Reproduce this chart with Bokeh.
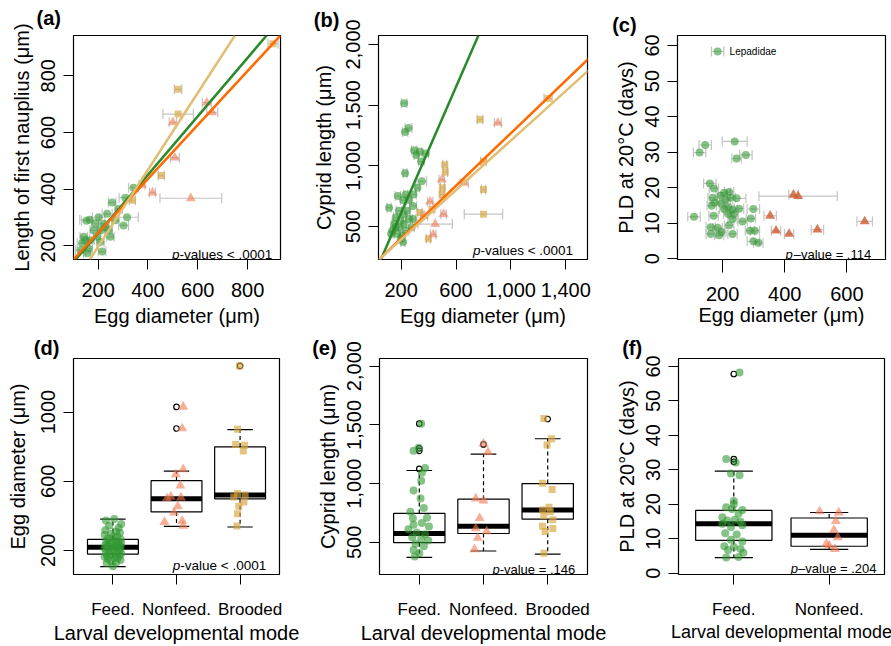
import numpy as np
from bokeh.plotting import figure
from bokeh.layouts import column, row
from bokeh.models import (ColumnDataSource, Slope, Whisker, TeeHead, Label, LinearAxis, Title,
                          FixedTicker, Range1d, NumeralTickFormatter, CustomJSTickFormatter)
from bokeh.embed import file_html
from bokeh.resources import INLINE

FONT = "Liberation Sans"
GREEN = "#339933"
SALMON = "#f07850"
SALMON_DARK = "#cf5a30"
GOLD = "#d7a53e"
LINE_GREEN = "#2a8a2a"
LINE_ORANGE = "#ff6a00"
LINE_GOLD = "#e2bd72"
ERRC = "#c4c4c4"

# ---------------- panel (a): nauplius length vs egg diameter ----------------
a_feed_x = [342, 309, 316, 302, 256, 282, 236, 202, 166, 153, 189, 222, 211, 242,
            249, 216, 136, 149, 162, 129, 169, 196, 182, 142, 156, 209, 229, 269]
a_feed_y = [405, 370, 301, 272, 353, 330, 313, 301, 292, 289, 278, 278, 255, 255,
            232, 180, 209, 220, 191, 185, 220, 232, 255, 232, 174, 214, 267, 290]
a_feed_xerr = [20, 25, 45, 20, 15, 15, 20, 25, 40, 20, 15, 20, 15, 15,
               15, 15, 20, 15, 15, 20, 15, 15, 15, 15, 15, 15, 15, 15]
a_non_x = [636, 658, 500, 508, 418, 572, 376]
a_non_y = [705, 671, 636, 511, 388, 368, 415]
a_non_xerr = [18, 22, 15, 18, 12, 124, 12]
a_brd_x = [521, 521, 453, 337, 902]
a_brd_y = [752, 665, 448, 361, 913]
a_brd_xerr = [15, 61, 12, 12, 20]
a_fit_intercept = [38.6, 55.9, -74.2]      # feeding, nonfeeding, brooded
a_fit_slope = [1.031, 0.951, 1.357]

# ---------------- panel (b): cyprid length vs egg diameter ----------------
b_feed_x = [222, 254, 229, 295, 336, 380, 310, 346, 229, 351, 319, 290, 234, 176,
            215, 287, 112, 184, 220, 160, 196, 257, 287, 149, 184, 220, 138, 172,
            208, 127, 214, 234, 196, 160, 245, 276, 257]
b_feed_y = [1516, 1311, 1278, 1129, 1116, 1102, 1090, 1035, 940, 873, 819, 764, 764, 751,
            718, 670, 656, 630, 600, 575, 548, 562, 562, 521, 494, 521, 467, 440,
            426, 440, 373, 467, 400, 494, 630, 494, 718]
b_feed_xerr = [20, 25, 20, 20, 15, 20, 15, 20, 15, 35, 15, 20, 15, 20,
               20, 25, 15, 20, 15, 15, 20, 25, 20, 15, 20, 15, 15, 20,
               15, 15, 15, 20, 15, 20, 15, 20, 20]
b_non_x = [905, 659, 496, 411, 367, 509, 448, 433]
b_non_y = [1354, 859, 886, 705, 589, 602, 521, 435]
b_non_xerr = [25, 30, 20, 20, 25, 20, 125, 20]
b_brd_x = [1271, 775, 518, 522, 800, 800, 800, 501, 498, 424, 336, 399]
b_brd_y = [1554, 1381, 1008, 950, 1035, 805, 602, 819, 764, 640, 616, 399]
b_brd_xerr = [30, 20, 15, 15, 20, 15, 140, 15, 15, 15, 15, 15]
b_fit_intercept = [94, 187, 189]
b_fit_slope = [2.594, 1.082, 1.020]

# ---------------- panel (c): PLD vs egg diameter ----------------
c_feed_x = [184, 144, 126, 239, 275, 245, 159, 172, 108, 171, 165, 168, 194, 205,
            221, 210, 196, 226, 245, 218, 205, 232, 253, 236, 218, 232, 221, 264,
            299, 291, 288, 304, 299, 315, 232, 196, 184, 162, 162, 189, 175]
c_feed_y = [58.3, 32.0, 29.9, 33.0, 29.2, 28.2, 21.2, 19.8, 11.8, 12.1, 14.9, 17.2, 17.7, 18.6,
            18.8, 16.6, 15.5, 17.2, 17.0, 14.6, 14.0, 13.8, 14.1, 12.6, 12.6, 11.2, 9.4, 10.5,
            14.0, 11.3, 7.9, 7.9, 4.9, 4.5, 7.0, 7.5, 8.7, 8.9, 7.0, 6.6, 15.8]
c_feed_xerr = [20, 20, 20, 40, 20, 15, 20, 15, 20, 15, 15, 15, 15, 20,
               15, 15, 15, 15, 30, 15, 15, 15, 15, 15, 15, 15, 15, 15,
               20, 15, 15, 15, 20, 15, 15, 15, 15, 15, 15, 15, 15]
c_non_x = [428, 443, 353, 372, 414, 505, 657]
c_non_y = [18.0, 17.6, 12.1, 7.9, 7.0, 8.2, 10.5]
c_non_xerr = [15, 126, 20, 15, 15, 20, 25]
c_note = "Lepadidae"

# ---------------- panel (d): egg diameter by mode ----------------
modes3 = ["Feed.", "Nonfeed.", "Brooded"]
d_q1 = [178, 422, 498]
d_med = [217, 499, 520]
d_q3 = [263, 603, 798]
d_wlo = [106, 339, 335]
d_whi = [381, 658, 898]
d_out_cat = [2, 2, 3]
d_out_y = [1030, 905, 1267]
d_feed_y = [381, 372, 352, 342, 330, 316, 309, 302, 295, 288, 280, 275, 269, 264, 256,
            253, 249, 245, 242, 239, 236, 232, 229, 226, 222, 221, 218, 216, 211, 209,
            205, 202, 196, 194, 189, 184, 182, 175, 172, 169, 166, 162, 159, 153, 149,
            144, 136, 129, 126, 108]
d_feed_dx = [0.02, -0.11, 0.13, -0.06, 0.09, -0.12, 0.05, 0.11, -0.03, -0.13, 0.07, 0.0,
             -0.08, 0.12, 0.04, -0.1, 0.08, -0.05, 0.13, -0.01, 0.06, -0.12, 0.1, -0.07,
             0.03, 0.12, -0.09, 0.05, -0.13, 0.08, -0.02, 0.11, -0.06, 0.01, 0.09, -0.11,
             0.13, -0.04, 0.06, -0.09, 0.1, -0.13, 0.02, 0.07, -0.08, 0.12, -0.03, 0.05,
             -0.1, 0.0]
d_non_y = [1030, 905, 669, 640, 575, 510, 505, 455, 418, 363, 370, 341, 500]
d_non_dx = [0.105, 0.09, 0.105, -0.01, 0.06, -0.09, 0.07, 0.02, -0.04, -0.19, 0.09, 0.105, -0.15]
d_brd_y = [1267, 900, 812, 808, 775, 529, 520, 508, 479, 455, 411, 340]
d_brd_dx = [-0.01, -0.04, -0.07, 0.07, 0.05, -0.04, 0.08, -0.1, 0.06, -0.02, -0.04, -0.05]

# ---------------- panel (e): cyprid length by mode ----------------
e_q1 = [498, 576, 698]
e_med = [576, 638, 776]
e_q3 = [747, 868, 1001]
e_wlo = [373, 427, 400]
e_whi = [1112, 1252, 1382]
e_out_cat = [1, 1, 1, 1, 2, 3]
e_out_y = [1510, 1301, 1279, 1125, 1334, 1550]
e_feed_y = [1510, 1280, 1305, 1133, 1093, 1025, 941, 873, 792, 706, 666, 650, 636,
            611, 584, 570, 544, 530, 517, 489, 467, 435, 408, 381, 710, 760]
e_feed_dx = [0.03, -0.09, -0.01, 0.09, 0.04, 0.03, -0.09, 0.02, 0.07, -0.1, 0.04, -0.09, 0.15,
             -0.17, -0.04, 0.09, -0.11, 0.03, 0.14, -0.06, 0.07, -0.09, 0.0, -0.07, 0.12, -0.14]
e_non_y = [1340, 1269, 873, 855, 706, 619, 595, 538, 441]
e_non_dx = [0.0, 0.07, -0.12, 0.0, -0.06, -0.12, 0.05, -0.09, -0.14]
e_brd_y = [1555, 1382, 1328, 1003, 950, 800, 775, 760, 727, 692, 638, 619, 593, 408]
e_brd_dx = [-0.06, 0.06, -0.01, -0.08, 0.07, 0.02, -0.08, 0.04, -0.06, 0.08, -0.08, 0.08, -0.04, -0.06]

# ---------------- panel (f): PLD by mode ----------------
modes2 = ["Feed.", "Nonfeed."]
f_q1 = [9.5, 7.8]
f_med = [14.3, 11.0]
f_q3 = [18.2, 16.0]
f_wlo = [4.5, 6.9]
f_whi = [29.6, 17.6]
f_out_cat = [1, 1, 1]
f_out_y = [57.8, 33.1, 32.3]
f_feed_y = [58.2, 33.1, 32.1, 28.9, 28.4, 20.9, 19.1, 18.6, 18.3, 17.2, 15.3, 15.5, 14.9, 14.3,
            13.4, 13.9, 11.6, 11.2, 9.7, 9.2, 7.8, 7.6, 7.0, 6.7, 5.9, 4.5, 4.7, 16.2, 20.0]
f_feed_dx = [0.06, -0.08, 0.02, -0.03, 0.06, 0.0, -0.08, -0.02, 0.09, 0.05, -0.07, 0.01, 0.07,
             -0.12, -0.03, 0.09, -0.09, 0.03, -0.03, 0.09, -0.1, 0.0, 0.07, -0.06, 0.1, -0.08,
             0.05, -0.12, 0.0]
f_non_y = [17.9, 17.6, 15.1, 12.5, 10.4, 8.5, 8.0, 7.0]
f_non_dx = [-0.1, 0.1, 0.07, 0.05, 0.09, -0.03, 0.0, 0.06]

# approximate Arial/Liberation Sans advance widths (per 1000 em)
CW = {"-": 333, "–": 556, "v": 500, "a": 556, "l": 222, "u": 556, "e": 556, "s": 500,
      " ": 278, "<": 584, "=": 584, ".": 278, "p": 556}
for _d in "0123456789":
    CW[_d] = 556


def text_width(s, size):
    return sum(CW.get(ch, 556) for ch in s) / 1000.0 * size


def base_fig(w, h, xr, yr, bl, br, bt, bb):
    p = figure(width=w, height=h, x_range=Range1d(*xr), y_range=Range1d(*yr),
               output_backend="svg", toolbar_location=None,
               min_border_left=bl, min_border_right=br,
               min_border_top=bt, min_border_bottom=bb)
    p.outline_line_color = "black"
    p.outline_line_width = 1.2
    p.outline_line_alpha = 1.0
    p.grid.visible = False
    p.background_fill_color = "white"
    p.border_fill_color = "white"
    for ax in (p.xaxis[0], p.yaxis[0]):
        ax.axis_line_color = None
        ax.major_tick_line_color = "black"
        ax.major_tick_line_width = 1
        ax.major_tick_in = 0
        ax.major_tick_out = 10
        ax.minor_tick_line_color = None
        ax.major_label_text_font = FONT
        ax.major_label_text_font_size = "20px"
        ax.major_label_text_color = "black"
        ax.axis_label_text_font = FONT
        ax.axis_label_text_font_size = "20px"
        ax.axis_label_text_font_style = "normal"
        ax.axis_label_text_color = "black"
    p.yaxis.major_label_orientation = "vertical"
    p.yaxis.major_label_standoff = 8
    p.yaxis.axis_label_standoff = 6
    p.xaxis.major_label_standoff = 13
    p.xaxis.axis_label_standoff = 5
    return p


def tag(p, text, offset, push_down=0):
    p.title.text = text
    p.title.align = "left"
    p.title.offset = offset
    p.title.standoff = 0
    p.title.text_font = FONT
    p.title.text_font_size = "20px"
    p.title.text_font_style = "bold"
    p.title.text_color = "black"
    if push_down:
        # blank spacer placed on the outer side of the panel tag, nudging it downwards
        spacer = Title(text=" ", text_font_size=f"{push_down}px", standoff=0)
        p.above = [spacer] + [r for r in p.above]


def pval(p, rest, fw, dr, db, size=13.5):
    p.add_layout(Label(x=fw - dr, y=db, x_units="screen", y_units="screen", text=rest,
                       text_align="right", text_baseline="alphabetic", text_font=FONT,
                       text_font_size=f"{size}px", text_color="black"))
    p.add_layout(Label(x=fw - dr - text_width(rest, size), y=db, x_units="screen",
                       y_units="screen", text="p", text_align="right",
                       text_baseline="alphabetic", text_font=FONT, text_font_style="italic",
                       text_font_size=f"{size}px", text_color="black"))


def scatter_err(p, xs, ys, xerr, marker, color, size, alpha):
    xs = np.array(xs, float)
    e = np.array(xerr, float)
    src = ColumnDataSource(dict(x=xs, y=np.array(ys, float), lo=xs - e, hi=xs + e))
    w = Whisker(source=src, base="y", lower="lo", upper="hi", dimension="width",
                line_color=ERRC, line_width=1.2, level="underlay",
                lower_head=TeeHead(size=10, line_color=ERRC, line_width=1.2),
                upper_head=TeeHead(size=10, line_color=ERRC, line_width=1.2))
    p.add_layout(w)
    p.scatter("x", "y", source=src, marker=marker, size=size, fill_color=color,
              fill_alpha=alpha, line_color=None)


def boxplot(p, q1, med, q3, wlo, whi, out_cat, out_y):
    c = np.arange(1, len(q1) + 1, dtype=float)
    src = ColumnDataSource(dict(x=c, q1=q1, med=med, q3=q3, wlo=wlo, whi=whi,
                                l=c - 0.4, r=c + 0.4, cl=c - 0.2, cr=c + 0.2))
    for a, b in (("q3", "whi"), ("q1", "wlo")):
        p.segment(x0="x", y0=a, x1="x", y1=b, source=src, line_color="black",
                  line_width=1.2, line_dash="4 3")
    for b in ("whi", "wlo"):
        p.segment(x0="cl", y0=b, x1="cr", y1=b, source=src, line_color="black", line_width=1.2)
    p.quad(left="l", right="r", bottom="q1", top="q3", source=src, fill_color="white",
           line_color="black", line_width=1.2)
    p.segment(x0="l", y0="med", x1="r", y1="med", source=src, line_color="black",
              line_width=5, line_cap="butt")
    p.scatter(x=out_cat, y=out_y, marker="circle", size=5.5, fill_color=None,
              line_color="black", line_width=1.2)


def jitter(p, cat, ys, dx, marker, color, size, alpha):
    xs = cat + np.array(dx, float)
    p.scatter(x=xs, y=ys, marker=marker, size=size, fill_color=color, fill_alpha=alpha,
              line_color=None)


def cat_axis(p, labels, last_shift_px, px_per_cat, title_size="20px"):
    ticks = list(range(1, len(labels) + 1))
    ax = p.xaxis[0]                      # tick marks only
    ax.ticker = FixedTicker(ticks=ticks)
    ax.formatter = CustomJSTickFormatter(code="return '';")
    ax.major_label_text_font_size = "1px"
    ax.major_label_standoff = 0
    ax.major_tick_out = 10
    pos = [float(t) for t in ticks]
    pos[-1] += last_shift_px / px_per_cat
    lab = LinearAxis(ticker=FixedTicker(ticks=pos),
                     formatter=CustomJSTickFormatter(args=dict(labels=labels),
                                                     code="return labels[Math.round(tick) - 1];"),
                     major_tick_out=0, major_tick_in=0, major_tick_line_color=None,
                     minor_tick_line_color=None, axis_line_color=None,
                     major_label_text_font=FONT, major_label_text_font_size="17px",
                     major_label_text_color="black", major_label_standoff=15,
                     axis_label="Larval developmental mode", axis_label_text_font=FONT,
                     axis_label_text_font_size=title_size, axis_label_text_font_style="normal",
                     axis_label_text_color="black", axis_label_standoff=0)
    p.add_layout(lab, "below")


# ================= (a) =================
pa = base_fig(300, 330, (101, 932), (152, 942), 73, 20, 35, 67)
pa.xaxis.ticker = FixedTicker(ticks=[200, 400, 600, 800])
pa.yaxis.ticker = FixedTicker(ticks=[200, 400, 600, 800])
pa.xaxis.axis_label = "Egg diameter (μm)"
pa.yaxis.axis_label = "Length of first nauplius (μm)"
scatter_err(pa, a_brd_x, a_brd_y, a_brd_xerr, "square", GOLD, 7, 0.65)
scatter_err(pa, a_non_x, a_non_y, a_non_xerr, "triangle", SALMON, 10, 0.6)
scatter_err(pa, a_feed_x, a_feed_y, a_feed_xerr, "circle", GREEN, 8, 0.6)
for b0, b1, col in zip(a_fit_intercept, a_fit_slope, [LINE_GREEN, LINE_ORANGE, LINE_GOLD]):
    pa.add_layout(Slope(gradient=b1, y_intercept=b0, line_color=col, line_width=2.5))
tag(pa, "(a)", -37, push_down=4)
pval(pa, "-values < .0001", 207, 8.3, 5.5)

# ================= (b) =================
pb = base_fig(308, 330, (35, 1558), (229, 2073), 78, 21, 35, 67)
pb.xaxis.ticker = FixedTicker(ticks=[200, 600, 1000, 1400])
pb.yaxis.ticker = FixedTicker(ticks=[500, 1000, 1500, 2000])
pb.xaxis.formatter = NumeralTickFormatter(format="0,0")
pb.yaxis.formatter = NumeralTickFormatter(format="0,0")
pb.yaxis.axis_label_standoff = 9
pb.xaxis.axis_label = "Egg diameter (μm)"
pb.yaxis.axis_label = "Cyprid length (μm)"
scatter_err(pb, b_brd_x, b_brd_y, b_brd_xerr, "square", GOLD, 7, 0.65)
scatter_err(pb, b_non_x, b_non_y, b_non_xerr, "triangle", SALMON, 10, 0.6)
scatter_err(pb, b_feed_x, b_feed_y, b_feed_xerr, "circle", GREEN, 8, 0.6)
for b0, b1, col in zip(b_fit_intercept, b_fit_slope, [LINE_GREEN, LINE_ORANGE, LINE_GOLD]):
    pb.add_layout(Slope(gradient=b1, y_intercept=b0, line_color=col, line_width=2.5))
tag(pb, "(b)", -64.7, push_down=3)
pval(pb, "-values < .0001", 209, 14.4, 9)

# ================= (c) =================
pc = base_fig(283, 330, (55, 724), (-0.2, 62.8), 69, 6, 34, 71)
pc.xaxis.ticker = FixedTicker(ticks=[200, 400, 600])
pc.yaxis.ticker = FixedTicker(ticks=[0, 10, 20, 30, 40, 50, 60])
pc.xaxis.major_tick_out = 13
pc.xaxis.major_label_standoff = 14
pc.xaxis.axis_label_standoff = 0
pc.xaxis.axis_label = "Egg diameter (μm)"
pc.yaxis.axis_label = "PLD at 20°C (days)"
scatter_err(pc, c_non_x, c_non_y, c_non_xerr, "triangle", SALMON_DARK, 10, 0.8)
scatter_err(pc, c_feed_x, c_feed_y, c_feed_xerr, "circle", GREEN, 8, 0.6)
pc.add_layout(Label(x=c_feed_x[0], y=c_feed_y[0], x_offset=12, text=c_note,
                    text_font=FONT, text_font_size="10px", text_baseline="middle",
                    text_color="black"))
tag(pc, "(c)", -65.3)
pval(pc, "–value = .114", 208, 14.3, 5, 13)

# ================= (d) =================
pd_ = base_fig(300, 316, (0.38, 3.62), (60, 1310), 73, 21, 28, 62)
cat_axis(pd_, modes3, 10, 206 / 3.24)
pd_.yaxis.ticker = FixedTicker(ticks=[200, 600, 1000])
pd_.yaxis.axis_label_standoff = 10
pd_.yaxis.axis_label = "Egg diameter (μm)"
boxplot(pd_, d_q1, d_med, d_q3, d_wlo, d_whi, d_out_cat, d_out_y)
jitter(pd_, 1, d_feed_y, d_feed_dx, "circle", GREEN, 8, 0.6)
jitter(pd_, 2, d_non_y, d_non_dx, "triangle", SALMON, 10, 0.6)
jitter(pd_, 3, d_brd_y, d_brd_dx, "square", GOLD, 7, 0.65)
tag(pd_, "(d)", -39.7)
pval(pd_, "-value < .0001", 206, 13.3, 9)

# ================= (e) =================
pe = base_fig(308, 316, (0.38, 3.62), (227, 2065), 79, 21, 26, 64)
cat_axis(pe, modes3, 10, 208 / 3.24)
pe.yaxis.ticker = FixedTicker(ticks=[500, 1000, 1500, 2000])
pe.yaxis.formatter = NumeralTickFormatter(format="0,0")
pe.yaxis.axis_label = "Cyprid length (μm)"
boxplot(pe, e_q1, e_med, e_q3, e_wlo, e_whi, e_out_cat, e_out_y)
jitter(pe, 1, e_feed_y, e_feed_dx, "circle", GREEN, 8, 0.6)
jitter(pe, 2, e_non_y, e_non_dx, "triangle", SALMON, 10, 0.6)
jitter(pe, 3, e_brd_y, e_brd_dx, "square", GOLD, 7, 0.65)
tag(pe, "(e)", -67.3)
pval(pe, "-value = .146", 208, 12.3, 5, 13)

# ================= (f) =================
pf = base_fig(283, 316, (0.42, 2.58), (-0.4, 62.3), 70, 7, 26, 67)
cat_axis(pf, modes2, 0, 206 / 2.16, title_size="18px")
pf.yaxis.ticker = FixedTicker(ticks=[0, 10, 20, 30, 40, 50, 60])
pf.yaxis.axis_label = "PLD at 20°C (days)"
boxplot(pf, f_q1, f_med, f_q3, f_wlo, f_whi, f_out_cat, f_out_y)
jitter(pf, 1, f_feed_y, f_feed_dx, "circle", GREEN, 8, 0.6)
jitter(pf, 2, f_non_y, f_non_dx, "triangle", SALMON, 10, 0.6)
tag(pf, "(f)", -56.3)
pval(pf, "–value = .204", 206, 8, 5.7, 13)

layout = column(row(pa, pb, pc), row(pd_, pe, pf))
open("out.html", "w").write(file_html(layout, INLINE))
